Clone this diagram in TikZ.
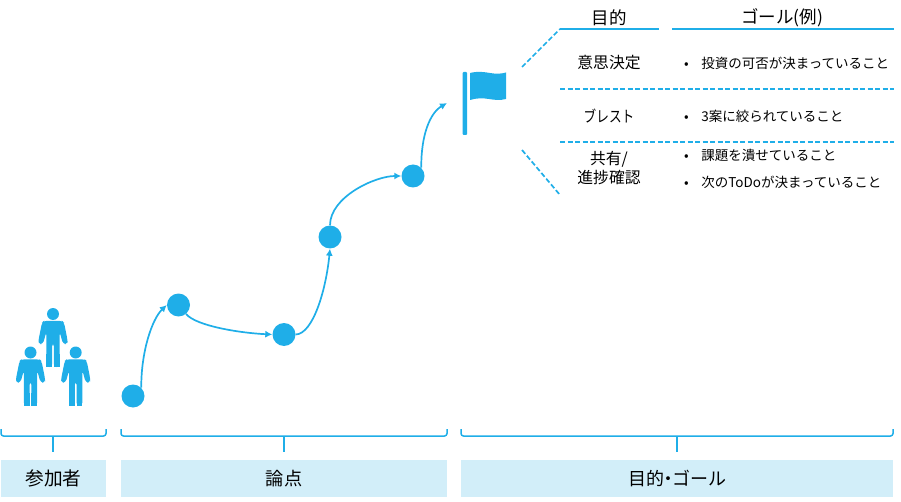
\documentclass[tikz,border=0pt]{standalone}
\usepackage{fontspec}
\setmainfont{Noto Sans CJK JP}
\usetikzlibrary{arrows.meta}
\definecolor{mainblue}{HTML}{1FAEE8}
\definecolor{bandblue}{HTML}{D2EEF9}
\tikzset{
  dot/.style={circle,fill=mainblue,inner sep=0pt,minimum size=23pt},
  flow/.style={draw=mainblue,line width=1.7pt,-{Latex[length=7pt,width=7pt]}},
  solidrule/.style={draw=mainblue,line width=1.7pt},
  dashrule/.style={draw=mainblue,line width=1.7pt,dash pattern=on 5pt off 2.5pt},
  brace/.style={draw=mainblue,line width=1.5pt,rounded corners=2.5pt},
  band/.style={fill=bandblue,inner sep=0pt,text=black},
  head/.style={font=\fontsize{17.5pt}{20pt}\selectfont,text=black,inner sep=0pt},
  cell/.style={font=\fontsize{15.8pt}{19pt}\selectfont,text=black,inner sep=0pt,align=center},
  goal/.style={font=\fontsize{13.5pt}{18pt}\selectfont,text=black,inner sep=0pt,anchor=west},
  person/.pic={
    \fill[mainblue] (0,0) circle (6);
    \fill[mainblue,rounded corners=3pt]
      (-9,6.8) -- (9,6.8) -- (11,8.5) -- (14.5,26) -- (14.5,30) -- (10,30) -- (6.7,18)
      -- (6.7,53) -- (0.8,53) -- (0.8,29) -- (-0.8,29) -- (-0.8,53) -- (-6.7,53)
      -- (-6.7,18) -- (-10,30) -- (-14.5,30) -- (-14.5,26) -- (-11,8.5) -- cycle;
    \fill[mainblue] (-6.7,40) rectangle (-0.8,53);
    \fill[mainblue] (0.8,40) rectangle (6.7,53);
  }
}
\begin{document}
\begin{tikzpicture}[x=1pt,y=-1pt]
\useasboundingbox (0,0) rectangle (901,502);
% participants
\pic at (53,314) {person};
\pic at (30.5,352.5) {person};
\pic at (75.7,352.5) {person};
% path dots
\node[dot] (n1) at (133,396) {};
\node[dot] (n2) at (178.5,305) {};
\node[dot] (n3) at (284,334.5) {};
\node[dot] (n4) at (330,237) {};
\node[dot] (n5) at (413,176) {};
\coordinate (ft) at (447,103);
\draw[flow] (n1.45) .. controls (141,352) and (152,319) .. (n2.180);
\draw[flow] (n2.-50) .. controls (196,326) and (240,333) .. (n3.180);
\draw[flow] (n3.0) .. controls (313,334) and (326,290) .. (n4.south);
\draw[flow] (n4.north) .. controls (330,197) and (375,176) .. (n5.180);
\draw[flow] (n5.45) .. controls (421,135) and (430,113) .. (ft);
% flag
\fill[mainblue,rounded corners=0.8pt] (462.7,72) rectangle (467,135);
\fill[mainblue] (470,73) .. controls (478,71) and (484,72) .. (490,73)
  .. controls (496,74) and (501,74) .. (506,72.5) -- (506,99)
  .. controls (500,100.5) and (495,100) .. (489,99)
  .. controls (483,98) and (476,98) .. (470,100) -- cycle;
% table rules
\coordinate (a) at (522,67);
\coordinate (b) at (560,29);
\coordinate (c) at (659,29);
\coordinate (d) at (672,29);
\coordinate (e) at (894,29);
\coordinate (f) at (560,89);
\coordinate (g) at (894,89);
\coordinate (h) at (560,142);
\coordinate (i) at (894,142);
\coordinate (j) at (522,150);
\coordinate (k) at (560,195);
\draw[solidrule] (b) -- (c);
\draw[solidrule] (d) -- (e);
\draw[dashrule] (a) -- (b);
\draw[dashrule] (f) -- (g);
\draw[dashrule] (h) -- (i);
\draw[dashrule] (j) -- (k);
% table text
\node[head] (h1) at (609,18) {目的};
\node[head] (h2) at (782,18) {ゴール(例)};
\node[cell] (c1) at (609,63) {意思決定};
\node[cell] (c2) at (609,116) {\scalebox{0.8}[1]{ブレスト}};
\node[cell] (c3) at (609,168) {共有/\\進捗確認};
\node[goal] (g1) at (684,63) {•\hspace{12.5pt}投資の可否が決まっていること};
\node[goal] (g2) at (684,116) {•\hspace{12.5pt}3案に絞られていること};
\node[goal] (g3) at (684,155) {•\hspace{12.5pt}課題を潰せていること};
\node[goal] (g4) at (684,182) {•\hspace{12.5pt}次のToDoが決まっていること};
% braces
\coordinate (b1a) at (1,429);
\coordinate (b1b) at (106,429);
\coordinate (b1c) at (53,436);
\coordinate (b1d) at (53,452);
\draw[brace] (b1a) -- (1,436) -- (106,436) -- (b1b);
\draw[brace] (b1c) -- (b1d);
\coordinate (b2a) at (121,429);
\coordinate (b2b) at (447,429);
\coordinate (b2c) at (284,436);
\coordinate (b2d) at (284,452);
\draw[brace] (b2a) -- (121,436) -- (447,436) -- (b2b);
\draw[brace] (b2c) -- (b2d);
\coordinate (b3a) at (461,429);
\coordinate (b3b) at (893,429);
\coordinate (b3c) at (677,436);
\coordinate (b3d) at (677,452);
\draw[brace] (b3a) -- (461,436) -- (893,436) -- (b3b);
\draw[brace] (b3c) -- (b3d);
% bands
\node[band,font=\fontsize{18.7pt}{20pt}\selectfont,minimum width=105pt,minimum height=37pt] (l1) at (53.5,478.5) {参加者};
\node[band,font=\fontsize{18.2pt}{20pt}\selectfont,minimum width=326pt,minimum height=37pt] (l2) at (284,478.5) {論点};
\node[band,font=\fontsize{18pt}{20pt}\selectfont,minimum width=432pt,minimum height=37pt] (l3) at (677,478.5) {目的\hspace{-5pt}・\hspace{-5pt}ゴール};
\end{tikzpicture}
\end{document}
